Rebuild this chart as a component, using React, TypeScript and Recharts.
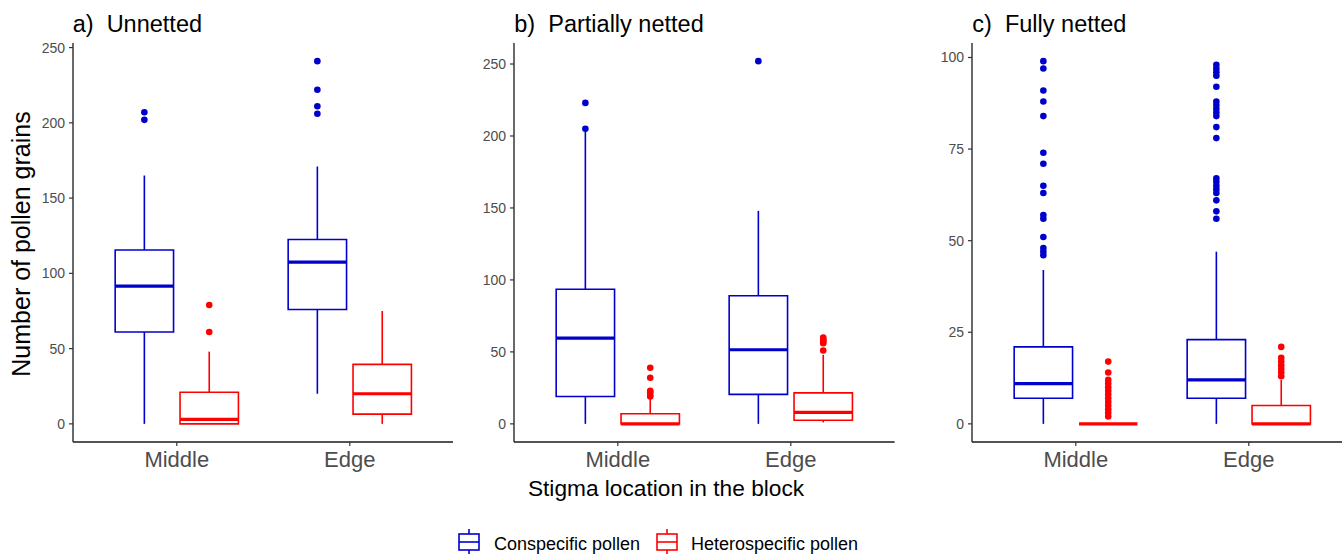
import React from "react";
import { ComposedChart, XAxis, YAxis, ReferenceArea, ReferenceLine, Scatter } from "recharts";

// ---------- data ----------
const categories = ["Middle", "Edge"];
const seriesNames = ["Conspecific pollen", "Heterospecific pollen"];
const seriesColors = ["#0000CD", "#FF0000"];
const panelTitles = ["a)  Unnetted", "b)  Partially netted", "c)  Fully netted"];
const yAxisTitle = "Number of pollen grains";
const xAxisTitle = "Stigma location in the block";

type Box = { lower: number; q1: number; median: number; q3: number; upper: number; outliers: number[] };

// a) Unnetted  (index 0 = Middle, 1 = Edge)
const unnettedConspecific: Box[] = [
  { lower: 0, q1: 61, median: 91.5, q3: 115.5, upper: 165, outliers: [202, 207] },
  { lower: 20, q1: 76, median: 107.5, q3: 122.5, upper: 171, outliers: [206, 211, 222, 241] },
];
const unnettedHeterospecific: Box[] = [
  { lower: 0, q1: 0, median: 3, q3: 21, upper: 48, outliers: [61, 79] },
  { lower: 0, q1: 6.5, median: 20, q3: 39.5, upper: 75, outliers: [] },
];

// b) Partially netted
const partialConspecific: Box[] = [
  { lower: 0, q1: 19, median: 59.5, q3: 93.5, upper: 204, outliers: [205, 223] },
  { lower: 0, q1: 20.5, median: 51.5, q3: 89, upper: 148, outliers: [252] },
];
const partialHeterospecific: Box[] = [
  { lower: 0, q1: 0, median: 0, q3: 7, upper: 18, outliers: [19, 20, 22, 23, 32, 39] },
  { lower: 1, q1: 2.5, median: 8, q3: 21.5, upper: 48, outliers: [51, 56, 57, 58, 59, 60] },
];

// c) Fully netted
const fullConspecific: Box[] = [
  { lower: 0, q1: 7, median: 11, q3: 21, upper: 42, outliers: [46, 47, 48, 51, 56, 57, 63, 65, 71, 74, 84, 88, 91, 97, 99] },
  { lower: 0, q1: 7, median: 12, q3: 23, upper: 47, outliers: [56, 58, 61, 63, 64, 65, 66, 67, 78, 81, 84, 85, 86, 87, 88, 92, 95, 96, 97, 98] },
];
const fullHeterospecific: Box[] = [
  { lower: 0, q1: 0, median: 0, q3: 0, upper: 0, outliers: [2, 3, 4, 5, 6, 7, 8, 9, 10, 11, 12, 14, 17] },
  { lower: 0, q1: 0, median: 0, q3: 5, upper: 12, outliers: [13, 14, 15, 16, 17, 18, 21] },
];

const yTicksA = [0, 50, 100, 150, 200, 250];
const yTicksB = [0, 50, 100, 150, 200, 250];
const yTicksC = [0, 25, 50, 75, 100];
const yDomainA = [-12.05, 253.05];
const yDomainB = [-12.6, 264.6];
const yDomainC = [-4.95, 103.95];

// ---------- layout ----------
const FONT = "'Liberation Sans', Arial, sans-serif";
const PLOT_TOP = 43;
const TOP_PAD = 15;
const PLOT_H = 399;
const PLOT_W = 380.6;
const Y_AXIS_W = 60;
const X_AXIS_H = 60;
const DODGE = 0.1875;
const BOX_W = 0.3375;
const seriesOffsets = [-DODGE, DODGE];

const panels = [
  { left: 72.7, title: panelTitles[0], series: [unnettedConspecific, unnettedHeterospecific], domain: yDomainA, ticks: yTicksA },
  { left: 514.3, title: panelTitles[1], series: [partialConspecific, partialHeterospecific], domain: yDomainB, ticks: yTicksB },
  { left: 972.3, title: panelTitles[2], series: [fullConspecific, fullHeterospecific], domain: yDomainC, ticks: yTicksC },
];

function Panel({ p }: { p: any }) {
  const elements: any[] = [];
  p.series.forEach((boxes: Box[], si: number) => {
    const color = seriesColors[si];
    boxes.forEach((b: Box, ci: number) => {
      const cx = ci + 1 + seriesOffsets[si];
      const x1 = cx - BOX_W / 2;
      const x2 = cx + BOX_W / 2;
      const k = `${si}-${ci}`;
      elements.push(
        <ReferenceLine key={`wu${k}`} segment={[{ x: cx, y: b.q3 }, { x: cx, y: b.upper }]} stroke={color} strokeWidth={1.6} ifOverflow="visible" />
      );
      elements.push(
        <ReferenceLine key={`wl${k}`} segment={[{ x: cx, y: b.lower }, { x: cx, y: b.q1 }]} stroke={color} strokeWidth={1.6} ifOverflow="visible" />
      );
      elements.push(
        <ReferenceArea key={`bx${k}`} x1={x1} x2={x2} y1={b.q1} y2={b.q3} fill="#ffffff" fillOpacity={1} stroke={color} strokeWidth={1.6} ifOverflow="visible" />
      );
      elements.push(
        <ReferenceLine key={`md${k}`} segment={[{ x: x1, y: b.median }, { x: x2, y: b.median }]} stroke={color} strokeWidth={3.2} ifOverflow="visible" />
      );
    });
  });
  const scatters = p.series.map((boxes: Box[], si: number) => {
    const data = boxes.flatMap((b: Box, ci: number) =>
      b.outliers.map((v) => ({ x: ci + 1 + seriesOffsets[si], y: v }))
    );
    const color = seriesColors[si];
    return (
      <Scatter
        key={`sc${si}`}
        data={data}
        isAnimationActive={false}
        shape={(props: any) => <circle cx={props.cx} cy={props.cy} r={3.3} fill={color} />}
      />
    );
  });
  return (
    <div style={{ position: "absolute", left: p.left - Y_AXIS_W, top: PLOT_TOP - TOP_PAD }}>
      <ComposedChart width={Y_AXIS_W + PLOT_W} height={TOP_PAD + PLOT_H + X_AXIS_H} margin={{ top: TOP_PAD, right: 0, bottom: 0, left: 0 }}>
        <XAxis
          type="number"
          dataKey="x"
          domain={[0.4, 2.6]}
          allowDataOverflow
          ticks={[1, 2]}
          interval={0}
          tickFormatter={(v: number) => categories[Math.round(v) - 1]}
          height={X_AXIS_H}
          tickSize={4}
          tickMargin={5}
          axisLine={{ stroke: "#1a1a1a", strokeWidth: 1.3 }}
          tickLine={{ stroke: "#333333", strokeWidth: 1.2 }}
          tick={{ fontSize: 22, fill: "#4d4d4d", fontFamily: FONT }}
        />
        <YAxis
          type="number"
          dataKey="y"
          domain={p.domain}
          allowDataOverflow
          ticks={p.ticks}
          interval={0}
          width={Y_AXIS_W}
          tickSize={4}
          tickMargin={4}
          axisLine={{ stroke: "#1a1a1a", strokeWidth: 1.3 }}
          tickLine={{ stroke: "#333333", strokeWidth: 1.2 }}
          tick={{ fontSize: 14, fill: "#4d4d4d", fontFamily: FONT }}
        />
        {elements}
        {scatters}
      </ComposedChart>
    </div>
  );
}

function LegendIcon({ x, color }: { x: number; color: string }) {
  return (
    <g stroke={color} strokeWidth={1.6} fill="none">
      <line x1={x + 10} y1={529} x2={x + 10} y2={534} />
      <line x1={x + 10} y1={550} x2={x + 10} y2={554} />
      <rect x={x} y={534} width={20} height={16} />
      <line x1={x} y1={542} x2={x + 20} y2={542} />
    </g>
  );
}

export default function App() {
  return (
    <div style={{ position: "absolute", left: 0, top: 0, width: 1342, height: 554, overflow: "hidden", background: "#ffffff", fontFamily: FONT }}>
      {panels.map((p, i) => (
        <Panel key={i} p={p} />
      ))}
      <svg width={1342} height={554} style={{ position: "absolute", left: 0, top: 0, pointerEvents: "none" }}>
        {panels.map((p, i) => (
          <text key={i} x={p.left} y={31.5} fontSize={23.5} fill="#000" fontFamily={FONT} style={{ whiteSpace: "pre" }}>
            {p.title}
          </text>
        ))}
        <text x={30} y={244} fontSize={25} fill="#000" fontFamily={FONT} textAnchor="middle" transform="rotate(-90 30 244)">
          {yAxisTitle}
        </text>
        <text x={666} y={496} fontSize={22.7} fill="#000" fontFamily={FONT} textAnchor="middle">
          {xAxisTitle}
        </text>
        <LegendIcon x={459} color={seriesColors[0]} />
        <text x={494} y={550} fontSize={18} fill="#000" fontFamily={FONT}>
          {seriesNames[0]}
        </text>
        <LegendIcon x={657} color={seriesColors[1]} />
        <text x={691} y={550} fontSize={18} fill="#000" fontFamily={FONT}>
          {seriesNames[1]}
        </text>
      </svg>
    </div>
  );
}
